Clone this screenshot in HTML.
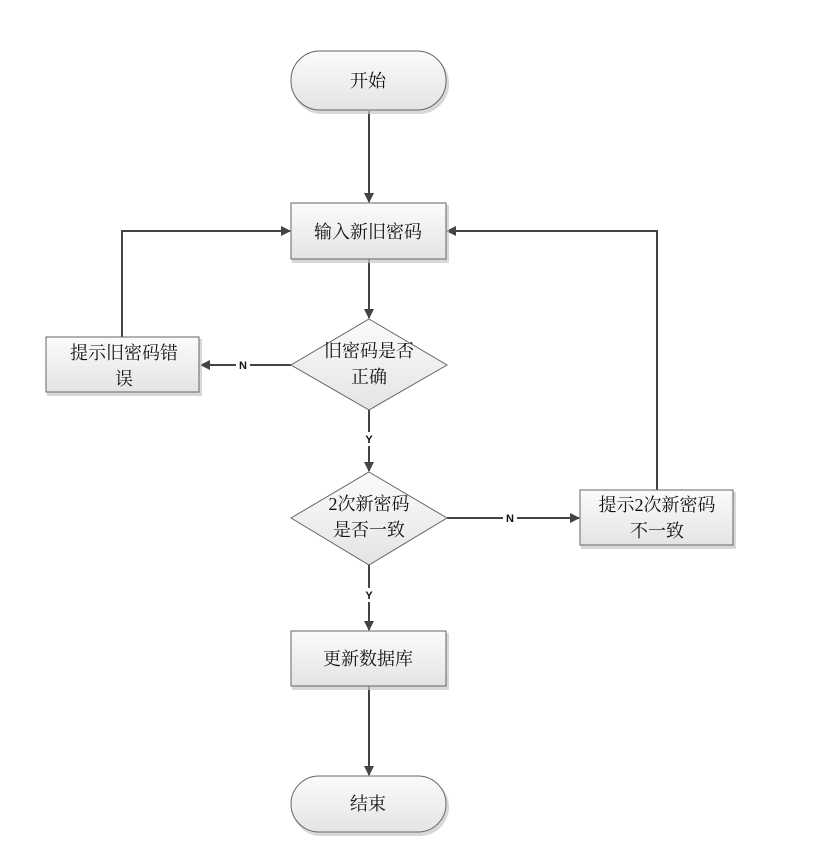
<!DOCTYPE html>
<html><head><meta charset="utf-8"><style>
html,body{margin:0;padding:0;background:#fff;}
svg text{font-family:"Liberation Serif","Noto Serif CJK SC","Noto Sans CJK SC",serif;font-size:18px;fill:#111;text-anchor:middle;}
svg text.l{font-family:"Liberation Sans",sans-serif;font-size:11px;font-weight:bold;}
</style></head><body>
<svg width="818" height="852" viewBox="0 0 818 852" xmlns="http://www.w3.org/2000/svg">
<defs>
<linearGradient id="g" x1="0" y1="0" x2="0" y2="1"><stop offset="0" stop-color="#fbfbfb"/><stop offset="1" stop-color="#e4e4e4"/></linearGradient>
<marker id="a" markerWidth="10" markerHeight="10" refX="9" refY="5" orient="auto" markerUnits="userSpaceOnUse"><path d="M0,0 L10,5 L0,10 Z" fill="#444"/></marker>
</defs>
<g stroke="#444" stroke-width="2" fill="none">
<line x1="369" y1="111" x2="369" y2="202" marker-end="url(#a)"/>
<line x1="369" y1="259" x2="369" y2="318" marker-end="url(#a)"/>
<line x1="291" y1="365" x2="201" y2="365" marker-end="url(#a)"/>
<polyline points="122,337 122,231 290,231" marker-end="url(#a)"/>
<line x1="369" y1="410" x2="369" y2="471" marker-end="url(#a)"/>
<line x1="447" y1="518" x2="579" y2="518" marker-end="url(#a)"/>
<polyline points="657,490 657,231 447,231" marker-end="url(#a)"/>
<line x1="369" y1="565" x2="369" y2="630" marker-end="url(#a)"/>
<line x1="369" y1="686" x2="369" y2="775" marker-end="url(#a)"/>
</g>
<g fill="#fff">
<rect x="236" y="358" width="14" height="13"/>
<rect x="362" y="432" width="14" height="14"/>
<rect x="503" y="511" width="14" height="14"/>
<rect x="362" y="588" width="14" height="14"/>
</g>
<text class="l" x="243" y="369">N</text>
<text class="l" x="369" y="443">Y</text>
<text class="l" x="510" y="522">N</text>
<text class="l" x="369" y="599">Y</text>
<g stroke="#c8c8c8" stroke-width="2" fill="#c8c8c8" opacity="0.7">
<rect x="293" y="54" width="155" height="59" rx="29"/>
<rect x="293" y="206" width="155" height="56" />
<rect x="48" y="340" width="153" height="55"/>
<rect x="582" y="493" width="153" height="55"/>
<rect x="293" y="634" width="155" height="55"/>
<rect x="293" y="779" width="155" height="56" rx="28"/>
</g>
<g stroke="#666" stroke-width="1" fill="url(#g)">
<rect x="291" y="51" width="155" height="59" rx="29"/>
<rect x="291" y="203" width="155" height="56"/>
<polygon points="369,319 447,365 369,410 291,365"/>
<rect x="46" y="337" width="153" height="55"/>
<polygon points="369,472 447,518 369,565 291,518"/>
<rect x="580" y="490" width="153" height="55"/>
<rect x="291" y="631" width="155" height="55"/>
<rect x="291" y="776" width="155" height="56" rx="28"/>
</g>
<text x="368" y="87">开始</text>
<text x="368" y="238">输入新旧密码</text>
<text x="124" y="359">提示旧密码错</text>
<text x="124" y="385">误</text>
<text x="369" y="357">旧密码是否</text>
<text x="369" y="383">正确</text>
<text x="369" y="510">2次新密码</text>
<text x="369" y="536">是否一致</text>
<text x="657" y="511">提示2次新密码</text>
<text x="657" y="537">不一致</text>
<text x="368" y="665">更新数据库</text>
<text x="368" y="810">结束</text>
</svg>
</body></html>
